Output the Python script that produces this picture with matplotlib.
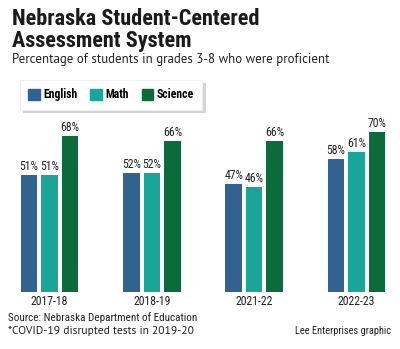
import numpy as np
import matplotlib
matplotlib.use('Agg')
import matplotlib.pyplot as plt
from matplotlib.patches import Patch

years = ['2017-18', '2018-19', '2021-22', '2022-23']
english = [51, 52, 47, 58]
math = [51, 52, 46, 61]
science = [68, 66, 66, 70]
subjects = ['English', 'Math', 'Science']
colors = ['#32628f', '#19a698', '#0b6b3a']

W, H = 400, 349
fig = plt.figure(figsize=(W / 100, H / 100), dpi=100)

# axes placed in pixel terms: baseline at y=292, 2.29 px per percent
ax = fig.add_axes([0, (H - 292) / H, 1, 171.75 / H])
ax.set_ylim(0, 75)
ax.set_xlim(-0.484, 3.425)
ax.axis('off')

x = np.arange(len(years))
bw = 0.162
step = 0.2
cond = ['Roboto Condensed', 'DejaVu Sans']
body = ['PT Sans', 'DejaVu Sans']
for i, (vals, c) in enumerate(zip([english, math, science], colors)):
    bars = ax.bar(x + (i - 1) * step, vals, width=bw, color=c)
    for b, v in zip(bars, vals):
        ax.text(b.get_x() + b.get_width() / 2, v + 0.9, f'{v}%', ha='center', va='bottom',
                fontsize=8.5, family=cond, color='#222222')

for xi, lab in zip(x, years):
    ax.text(xi, -4.0, lab, ha='center', va='center', fontsize=8.5, family=cond, color='#222222')

# titles
tfont = dict(fontsize=16, fontweight=900, family=['Roboto Condensed', 'DejaVu Sans'], color='#1a1a1a')
fig.text(12 / W, 1 - 25 / H, 'Nebraska Student-Centered', ha='left', va='baseline', **tfont)
fig.text(12 / W, 1 - 47 / H, 'Assessment System', ha='left', va='baseline', **tfont)
fig.text(12 / W, 1 - 63 / H, 'Percentage of students in grades 3-8 who were proficient', ha='left',
         va='baseline', fontsize=9.3, family=body, color='#222222')

# legend
handles = [Patch(color=c, label=s) for s, c in zip(subjects, colors)]
leg = fig.legend(handles=handles, loc='upper left', bbox_to_anchor=(20 / W, 1 - 80 / H), ncol=3,
                 frameon=True, fancybox=False, shadow={'color': '#bbbbbb', 'alpha': 0.6},
                 handlelength=1.0, handleheight=1.0, handletextpad=0.25, columnspacing=1.1,
                 borderpad=0.7, borderaxespad=0,
                 prop={'family': ['Roboto Condensed', 'DejaVu Sans'], 'weight': 'bold', 'size': 8.5})
leg.get_frame().set_edgecolor('#eeeeee')
leg.get_frame().set_linewidth(0.6)

# footer
fig.text(8 / W, 1 - 318 / H, 'Source: Nebraska Department of Education', ha='left', va='center',
         fontsize=8, family=cond, color='#222222')
fig.text(8 / W, 1 - 331 / H, '*COVID-19 disrupted tests in 2019-20', ha='left', va='center',
         fontsize=8.3, family=body, color='#222222')
fig.text(391 / W, 1 - 331 / H, 'Lee Enterprises graphic', ha='right', va='center',
         fontsize=7.5, family=cond, color='#222222')

fig.savefig('out.png', dpi=100, facecolor='white')
